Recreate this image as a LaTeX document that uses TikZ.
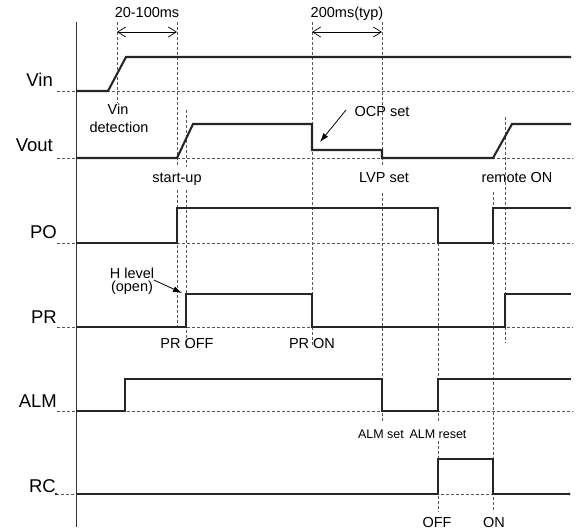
\documentclass[tikz,border=0pt]{standalone}
\usepackage{fontspec}
\setmainfont{Liberation Sans}
\usetikzlibrary{arrows.meta}
\begin{document}
\begin{tikzpicture}[x=1pt,y=-1pt,
  sig/.style={line width=2.1pt, line join=miter, black!85},
  baseline/.style={line width=0.6pt, black!65, dash pattern=on 3pt off 2pt},
  guide/.style={line width=0.6pt, black!65, dash pattern=on 3pt off 2pt},
  axisline/.style={line width=0.8pt, black!80},
  siglabel/.style={anchor=base east, inner sep=0pt, font=\fontsize{18.5}{18}\selectfont},
  lbl/.style={anchor=base, inner sep=0pt, font=\fontsize{14.5}{16}\selectfont},
  smalllbl/.style={anchor=base, inner sep=0pt, font=\fontsize{12.5}{14}\selectfont},
  span/.style={{Straight Barb[length=8pt,width=10pt]}-{Straight Barb[length=8pt,width=10pt]}, line width=0.7pt},
  pointer/.style={-{Latex[length=9pt,width=6pt]}, line width=0.8pt}
]
\useasboundingbox (0,0) rectangle (578,532);

% dashed baselines
\draw[baseline] (57,91) -- (573,91);
\draw[baseline] (57,158) -- (573,158);
\draw[baseline] (57,243) -- (573,243);
\draw[baseline] (57,327) -- (573,327);
\draw[baseline] (57,411) -- (573,411);
\draw[baseline] (56,494) -- (569,494);

% vertical guides
\draw[guide] (117,22) -- (117,103);
\draw[guide] (177,22) -- (177,167);
\draw[guide] (177,190) -- (177,327);
\draw[guide] (186,110) -- (186,167);
\draw[guide] (186,190) -- (186,349);
\draw[guide] (312,22) -- (312,346);
\draw[guide] (382,22) -- (382,166);
\draw[guide] (382,193) -- (382,421);
\draw[guide] (438,208) -- (438,421);
\draw[guide] (438,441) -- (438,512);
\draw[guide] (493,192) -- (493,512);
\draw[guide] (505,117) -- (505,343);

% signals
\draw[sig] (76,91) -- (108,91) -- (126,57) -- (571,57);
\draw[sig] (76,158) -- (177,158) -- (193,124) -- (312,124) -- (312,150) -- (382,150)
  -- (382,158) -- (493,158) -- (512,124) -- (571,124);
\draw[sig] (76,243) -- (177,243) -- (177,208) -- (438,208) -- (438,243) -- (493,243)
  -- (493,208) -- (571,208);
\draw[sig] (76,327) -- (186,327) -- (186,294) -- (312,294) -- (312,327) -- (505,327)
  -- (505,294) -- (571,294);
\draw[sig] (76,411) -- (125,411) -- (125,379) -- (382,379) -- (382,411) -- (438,411)
  -- (438,379) -- (571,379);
\draw[sig] (76,494) -- (438,494) -- (438,459) -- (493,459) -- (493,494) -- (569,494);
\fill[black!85] (56,494) circle (1.3pt);
\fill[black!85] (569,494) circle (1.5pt);

% time axis
\draw[axisline] (76,22) -- (76,527);

% signal labels
\node[siglabel] (vin) at (53,87) {Vin};
\node[siglabel] (vout) at (53,151) {Vout};
\node[siglabel] (po) at (57,238) {PO};
\node[siglabel] (pr) at (57,323) {PR};
\node[siglabel] (alm) at (57,407) {ALM};
\node[siglabel] (rc) at (56,492) {RC};

% timing spans
\coordinate (s1a) at (117,32);
\coordinate (s1b) at (177,32);
\coordinate (s2a) at (312,32);
\coordinate (s2b) at (382,32);
\draw[span] (s1a) -- (s1b);
\draw[span] (s2a) -- (s2b);
\node[lbl] (t1) at (147,18) {20-100ms};
\node[lbl] (t2) at (347,18) {200ms(typ)};

% event labels
\node[lbl] (vdet1) at (118,115) {Vin};
\node[lbl] (vdet2) at (119,132) {detection};
\node[lbl] (su) at (177,182) {start-up};
\node[lbl] (lvp) at (384,182) {LVP set};
\node[lbl] (ron) at (517,182) {remote ON};
\node[lbl] (ocp) at (382,117) {OCP set};
\node[lbl] (hl1) at (132,278) {H level};
\node[lbl] (hl2) at (132,291) {(open)};
\node[lbl] (proff) at (187,348) {PR OFF};
\node[lbl] (pron) at (312,348) {PR ON};
\node[smalllbl] (almset) at (381,438) {ALM set};
\node[smalllbl] (almres) at (438,438) {ALM reset};
\node[lbl] (off) at (437,527) {OFF};
\node[lbl] (on) at (494,527) {ON};

% pointers
\coordinate (ocpfrom) at (346,110);
\coordinate (ocptip) at (320,142);
\draw[pointer] (ocpfrom) -- (ocptip);
\coordinate (hlfrom) at (154,280);
\coordinate (hltip) at (182,293);
\draw[pointer] (hlfrom) -- (hltip);
\end{tikzpicture}
\end{document}
